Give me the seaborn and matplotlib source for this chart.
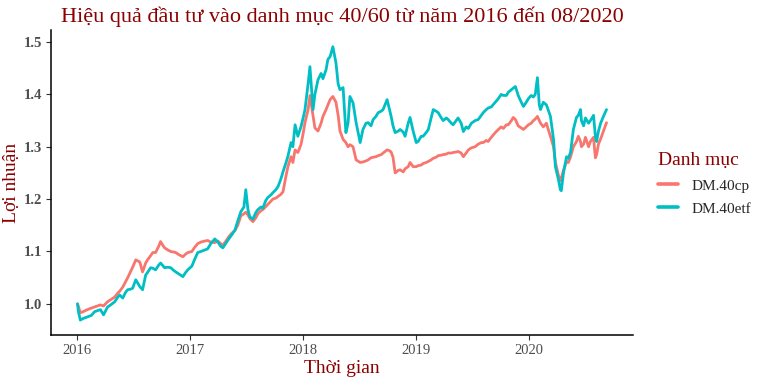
import pandas as pd
import numpy as np
import matplotlib
matplotlib.use("Agg")
import matplotlib.pyplot as plt
import seaborn as sns

dates = [
    "2016-01-04", "2016-01-07", "2016-01-13", "2016-01-22", "2016-02-05", "2016-02-18", "2016-02-28",
    "2016-03-09", "2016-03-18", "2016-03-28", "2016-04-10", "2016-04-20", "2016-05-03", "2016-05-12",
    "2016-05-19", "2016-05-29", "2016-06-07", "2016-06-14", "2016-06-23", "2016-06-30", "2016-07-10",
    "2016-07-23", "2016-08-01", "2016-08-11", "2016-08-17", "2016-08-27", "2016-09-03", "2016-09-12",
    "2016-09-22", "2016-09-28", "2016-10-05", "2016-10-11", "2016-10-21", "2016-10-31", "2016-11-09",
    "2016-11-16", "2016-11-26", "2016-12-09", "2016-12-18", "2016-12-25", "2017-01-07", "2017-01-16",
    "2017-01-26", "2017-02-05", "2017-02-18", "2017-02-27", "2017-03-09", "2017-03-22", "2017-04-01",
    "2017-04-10", "2017-04-17", "2017-04-27", "2017-05-06", "2017-05-16", "2017-05-26", "2017-06-04",
    "2017-06-14", "2017-06-24", "2017-06-30", "2017-07-07", "2017-07-13", "2017-07-23", "2017-08-02",
    "2017-08-08", "2017-08-18", "2017-08-24", "2017-09-03", "2017-09-09", "2017-09-19", "2017-09-25",
    "2017-10-05", "2017-10-12", "2017-10-21", "2017-10-28", "2017-11-07", "2017-11-13", "2017-11-23",
    "2017-11-29", "2017-12-06", "2017-12-15", "2017-12-25", "2018-01-01", "2018-01-07", "2018-01-17",
    "2018-01-23", "2018-02-02", "2018-02-08", "2018-02-18", "2018-02-28", "2018-03-06", "2018-03-16",
    "2018-03-22", "2018-03-29", "2018-04-07", "2018-04-17", "2018-04-24", "2018-04-30", "2018-05-10",
    "2018-05-19", "2018-05-26", "2018-06-01", "2018-06-11", "2018-06-21", "2018-07-04", "2018-07-13",
    "2018-07-23", "2018-07-30", "2018-08-08", "2018-08-15", "2018-08-24", "2018-08-31", "2018-09-10",
    "2018-09-16", "2018-09-29", "2018-10-05", "2018-10-12", "2018-10-18", "2018-10-25", "2018-11-04",
    "2018-11-10", "2018-11-20", "2018-11-26", "2018-12-06", "2018-12-12", "2018-12-22", "2019-01-01",
    "2019-01-07", "2019-01-17", "2019-01-23", "2019-02-02", "2019-02-09", "2019-02-18", "2019-02-25",
    "2019-03-06", "2019-03-13", "2019-03-23", "2019-03-29", "2019-04-08", "2019-04-14", "2019-04-24",
    "2019-04-30", "2019-05-10", "2019-05-16", "2019-05-26", "2019-06-02", "2019-06-11", "2019-06-18",
    "2019-06-28", "2019-07-10", "2019-07-20", "2019-07-30", "2019-08-05", "2019-08-15", "2019-08-21",
    "2019-08-31", "2019-09-13", "2019-09-23", "2019-10-02", "2019-10-09", "2019-10-19", "2019-10-25",
    "2019-11-04", "2019-11-10", "2019-11-17", "2019-11-26", "2019-12-06", "2019-12-13", "2019-12-22",
    "2019-12-29", "2020-01-07", "2020-01-14", "2020-01-20", "2020-01-27", "2020-02-02", "2020-02-06",
    "2020-02-15", "2020-02-25", "2020-03-02", "2020-03-09", "2020-03-19", "2020-03-25", "2020-04-04",
    "2020-04-10", "2020-04-13", "2020-04-20", "2020-04-30", "2020-05-06", "2020-05-13", "2020-05-22",
    "2020-06-01", "2020-06-07", "2020-06-14", "2020-06-17", "2020-06-24", "2020-06-30", "2020-07-10",
    "2020-07-16", "2020-07-26", "2020-08-01", "2020-08-05", "2020-08-11", "2020-08-18", "2020-08-27",
    "2020-09-06",
]

dm_40cp = [
    1.000, 0.995, 0.983, 0.985, 0.989, 0.992, 0.994,
    0.996, 0.998, 0.996, 1.004, 1.008, 1.013, 1.020,
    1.024, 1.032, 1.042, 1.050, 1.061, 1.070, 1.084,
    1.080, 1.061, 1.078, 1.084, 1.092, 1.098, 1.098,
    1.110, 1.119, 1.112, 1.107, 1.103, 1.100, 1.099,
    1.098, 1.094, 1.090, 1.095, 1.098, 1.100, 1.108,
    1.115, 1.118, 1.120, 1.121, 1.118, 1.117, 1.120,
    1.115, 1.112, 1.120, 1.128, 1.135, 1.140, 1.150,
    1.168, 1.172, 1.175, 1.170, 1.163, 1.157, 1.165,
    1.172, 1.178, 1.180, 1.186, 1.190, 1.196, 1.200,
    1.202, 1.205, 1.209, 1.214, 1.245, 1.262, 1.281,
    1.270, 1.294, 1.289, 1.304, 1.325, 1.346, 1.371,
    1.398, 1.360, 1.336, 1.330, 1.345, 1.358, 1.371,
    1.380, 1.390, 1.396, 1.385, 1.360, 1.330, 1.314,
    1.308, 1.300, 1.304, 1.300, 1.275, 1.270, 1.271,
    1.273, 1.275, 1.279, 1.280, 1.281, 1.283, 1.285,
    1.288, 1.294, 1.293, 1.290, 1.280, 1.250, 1.255,
    1.256, 1.252, 1.258, 1.262, 1.270, 1.262, 1.262,
    1.264, 1.265, 1.268, 1.270, 1.272, 1.275, 1.278,
    1.280, 1.283, 1.284, 1.285, 1.286, 1.288, 1.288,
    1.289, 1.290, 1.291, 1.288, 1.281, 1.288, 1.294,
    1.298, 1.300, 1.305, 1.308, 1.308, 1.312, 1.310,
    1.318, 1.327, 1.333, 1.338, 1.335, 1.342, 1.342,
    1.350, 1.356, 1.352, 1.340, 1.336, 1.333, 1.338,
    1.342, 1.345, 1.350, 1.353, 1.358, 1.350, 1.345,
    1.338, 1.345, 1.333, 1.320, 1.300, 1.270, 1.245,
    1.235, 1.240, 1.255, 1.272, 1.270, 1.281, 1.300,
    1.310, 1.320, 1.310, 1.300, 1.305, 1.318, 1.300,
    1.310, 1.318, 1.279, 1.285, 1.305, 1.315, 1.330,
    1.346,
]

dm_40etf = [
    1.000, 0.985, 0.969, 0.972, 0.975, 0.978, 0.985,
    0.987, 0.989, 0.979, 0.994, 0.998, 1.004, 1.012,
    1.017, 1.011, 1.022, 1.027, 1.028, 1.030, 1.046,
    1.033, 1.027, 1.055, 1.060, 1.069, 1.068, 1.065,
    1.074, 1.078, 1.073, 1.069, 1.070, 1.069, 1.064,
    1.061, 1.057, 1.052, 1.060, 1.065, 1.072, 1.085,
    1.098, 1.100, 1.103, 1.105, 1.115, 1.124, 1.118,
    1.110, 1.107, 1.116, 1.124, 1.132, 1.141, 1.158,
    1.176, 1.185, 1.218, 1.180, 1.166, 1.162, 1.175,
    1.180, 1.185, 1.183, 1.198, 1.203, 1.208, 1.212,
    1.218, 1.224, 1.238, 1.252, 1.270, 1.282, 1.308,
    1.300, 1.342, 1.320, 1.338, 1.355, 1.371, 1.420,
    1.453, 1.371, 1.400, 1.428, 1.440, 1.430, 1.447,
    1.467, 1.472, 1.491, 1.460, 1.420, 1.409, 1.413,
    1.327, 1.345, 1.396, 1.384, 1.346, 1.308, 1.333,
    1.345, 1.346, 1.340, 1.352, 1.358, 1.365, 1.368,
    1.371, 1.390, 1.375, 1.358, 1.340, 1.327, 1.330,
    1.333, 1.328, 1.320, 1.345, 1.356, 1.330, 1.308,
    1.310, 1.320, 1.320, 1.327, 1.333, 1.355, 1.371,
    1.368, 1.365, 1.355, 1.350, 1.355, 1.352, 1.345,
    1.342, 1.350, 1.355, 1.345, 1.329, 1.338, 1.335,
    1.345, 1.350, 1.352, 1.360, 1.365, 1.371, 1.374,
    1.376, 1.385, 1.392, 1.400, 1.398, 1.398, 1.404,
    1.409, 1.412, 1.415, 1.398, 1.385, 1.377, 1.385,
    1.392, 1.398, 1.395, 1.400, 1.432, 1.380, 1.371,
    1.385, 1.380, 1.370, 1.358, 1.314, 1.262, 1.237,
    1.218, 1.216, 1.250, 1.281, 1.278, 1.290, 1.333,
    1.356, 1.360, 1.371, 1.350, 1.340, 1.355, 1.345,
    1.350, 1.360, 1.320, 1.310, 1.330, 1.345, 1.358,
    1.371,
]

series_names = ["DM.40cp", "DM.40etf"]
colors = ["#F8766D", "#00BFC4"]

title = "Hiệu quả đầu tư vào danh mục 40/60 từ năm 2016 đến 08/2020"
xlabel = "Thời gian"
ylabel = "Lợi nhuận"
legend_title = "Danh mục"
yticks = [1.0, 1.1, 1.2, 1.3, 1.4, 1.5]
xtick_years = ["2016", "2017", "2018", "2019", "2020"]

df = pd.DataFrame({
    "date": pd.to_datetime(dates * 2),
    "value": dm_40cp + dm_40etf,
    "series": [series_names[0]] * len(dates) + [series_names[1]] * len(dates),
})

sns.set_theme(style="ticks")
plt.rcParams["font.family"] = ["Liberation Serif", "DejaVu Serif"]

dark_red = "#8B0000"
fig = plt.figure(figsize=(7.63, 3.81), dpi=100)
ax = fig.add_axes([0.0669, 0.1207, 0.7627, 0.8006])

sns.lineplot(data=df, x="date", y="value", hue="series", palette=colors,
             hue_order=series_names, linewidth=2.0, ax=ax)

d0 = df["date"].min()
d1 = df["date"].max()
span = d1 - d0
ax.set_xlim(d0 - span * 0.05, d1 + span * 0.05)
ax.set_ylim(0.9405, 1.523)

ax.set_xticks(pd.to_datetime([y + "-01-01" for y in xtick_years]))
ax.set_xticklabels(xtick_years, fontsize=10.5, color="#4D4D4D")
ax.set_yticks(yticks)
ax.set_yticklabels([f"{v:.1f}" for v in yticks], fontsize=10.5, color="#4D4D4D", fontweight="bold")
ax.tick_params(axis="both", length=3.5, width=0.8, color="#333333", pad=3)

for s in ["top", "right"]:
    ax.spines[s].set_visible(False)
for s in ["left", "bottom"]:
    ax.spines[s].set_color("black")
    ax.spines[s].set_linewidth(1.1)

ax.set_xlabel(xlabel, fontsize=14, color=dark_red, labelpad=2)
ax.set_ylabel(ylabel, fontsize=14, color=dark_red)
ax.yaxis.label.set_va("center")
ax.yaxis.set_label_coords(-0.068, 0.5)
ax.set_title(title, fontsize=16, color=dark_red, pad=6)

leg = ax.legend(title=legend_title, loc="center left", bbox_to_anchor=(1.02, 0.495),
                frameon=False, fontsize=11, title_fontsize=14, handlelength=1.3,
                handletextpad=0.9, labelspacing=0.62)
leg.get_title().set_color(dark_red)
leg._legend_box.align = "left"
for line in leg.get_lines():
    line.set_linewidth(2.6)

fig.savefig("out.png", dpi=100)
